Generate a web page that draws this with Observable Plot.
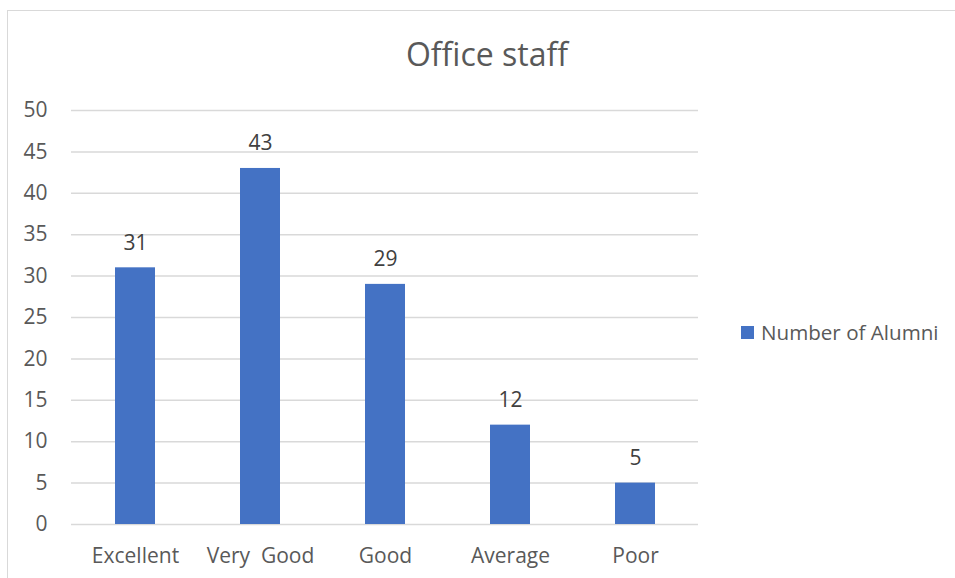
<!DOCTYPE html>
<html>
<head>
<meta charset="utf-8">
<script src="https://cdn.jsdelivr.net/npm/d3@7"></script>
<script src="https://cdn.jsdelivr.net/npm/@observablehq/plot@0.6"></script>
<style>
  html, body { margin: 0; padding: 0; background: #fff; }
  #wrap { position: relative; width: 955px; height: 578px; overflow: hidden; font-family: "Open Sans", sans-serif; }
  #border { position: absolute; left: 7px; top: 10px; width: 960px; height: 600px; border: 1.5px solid #d9d9d9; box-sizing: border-box; }
  #title { position: absolute; left: 0; width: 974px; top: 32px; text-align: center; font-size: 32px; color: #595959; line-height: 44px; }
  #legend { position: absolute; left: 741px; top: 318px; display: flex; align-items: center; font-size: 20.6px; color: #595959; line-height: 28px; }
  #legend .sw { width: 13px; height: 13px; background: #4472c4; margin-right: 7px; }
  #chart { position: absolute; left: 0; top: 0; }
</style>
</head>
<body>
<div id="wrap">
  <div id="border"></div>
  <div id="chart"></div>
  <div id="title">Office staff</div>
  <div id="legend"><div class="sw"></div><span>Number of Alumni</span></div>
</div>
<script>
const categories = ["Excellent", "Very  Good", "Good", "Average", "Poor"];
const values = [31, 43, 29, 12, 5];
const yTicks = [0, 5, 10, 15, 20, 25, 30, 35, 40, 45, 50];
const seriesName = "Number of Alumni";

const data = categories.map((c, i) => ({category: c, value: values[i]}));

const chart = Plot.plot({
  width: 955,
  height: 578,
  marginLeft: 71,
  marginRight: 257,
  marginTop: 110,
  marginBottom: 54,
  style: {fontFamily: "Open Sans, sans-serif", background: "transparent"},
  x: {domain: categories, paddingInner: 0.68, paddingOuter: 0.34, label: null},
  y: {domain: [0, 50], ticks: yTicks, label: null},
  marks: [
    Plot.ruleY(yTicks, {stroke: "#d9d9d9", strokeWidth: 1.5}),
    Plot.barY(data, {x: "category", y: "value", fill: "#4472c4"}),
    Plot.text(data, {x: "category", y: "value", text: d => String(d.value), dy: -25, fill: "#404040", fontSize: 21}),
    Plot.axisX({tickSize: 0, tickPadding: 24, fontSize: 21, fill: "#595959", label: null}),
    Plot.axisY({ticks: yTicks, tickSize: 0, tickPadding: 24, fontSize: 21, fill: "#595959", label: null})
  ]
});
chart.querySelectorAll("text").forEach(t => t.style.whiteSpace = "pre");
document.getElementById("chart").appendChild(chart);
</script>
</body>
</html>
